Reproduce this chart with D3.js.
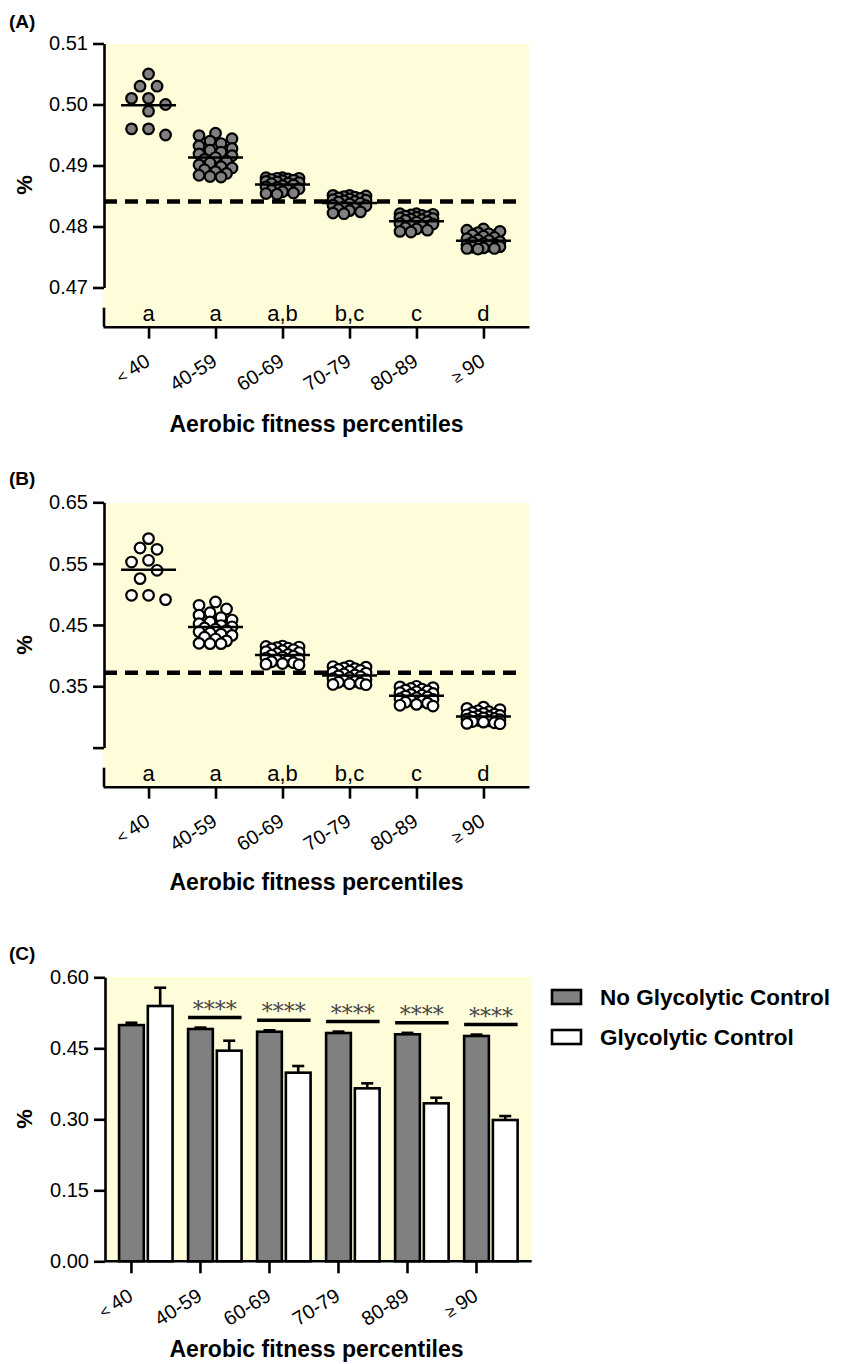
<!DOCTYPE html>
<html>
<head>
<meta charset="utf-8">
<script src="https://cdn.jsdelivr.net/npm/d3@7"></script>
<style>
  body { margin: 0; background: #fff; }
  svg { display: block; font-family: "Liberation Sans", Arial, sans-serif; }
</style>
</head>
<body>
<svg id="fig" width="841" height="1364"></svg>
<script>
// ---------- data ----------
const categories = ["< 40", "40-59", "60-69", "70-79", "80-89", "≥ 90"];
const groupLetters = ["a", "a", "a,b", "b,c", "c", "d"];
const xTitle = "Aerobic fitness percentiles";
const yTitle = "%";
const seriesNames = ["No Glycolytic Control", "Glycolytic Control"];

// (A) no glycolytic control: individual values per fitness group
const noGly_lt40  = [0.505, 0.503, 0.503, 0.501, 0.501, 0.500, 0.4989, 0.496, 0.496, 0.495];
const noGly_40_59 = [0.4953, 0.4949, 0.4944, 0.4940, 0.4936, 0.4932, 0.4928, 0.4925, 0.4922, 0.4919, 0.4916, 0.4913,
                     0.4910, 0.4907, 0.4904, 0.4901, 0.4898, 0.4896, 0.4893, 0.4890, 0.4887, 0.4884, 0.4882, 0.4881];
const noGly_60_69 = [0.4880, 0.4880, 0.4879, 0.4879, 0.4878, 0.4877, 0.4876, 0.4875, 0.4874, 0.4873, 0.4872, 0.4871,
                     0.4870, 0.4868, 0.4867, 0.4865, 0.4864, 0.4862, 0.4860, 0.4859, 0.4857, 0.4855, 0.4854, 0.4853];
const noGly_70_79 = [0.4851, 0.4851, 0.4850, 0.4849, 0.4848, 0.4847, 0.4846, 0.4845, 0.4844, 0.4843, 0.4842, 0.4841,
                     0.4840, 0.4838, 0.4837, 0.4835, 0.4834, 0.4832, 0.4830, 0.4828, 0.4826, 0.4824, 0.4822, 0.4821];
const noGly_80_89 = [0.4821, 0.4821, 0.4820, 0.4819, 0.4818, 0.4817, 0.4816, 0.4815, 0.4814, 0.4813, 0.4812, 0.4811,
                     0.4810, 0.4808, 0.4807, 0.4805, 0.4804, 0.4802, 0.4800, 0.4798, 0.4796, 0.4794, 0.4792, 0.4791];
const noGly_ge90  = [0.4796, 0.4794, 0.4792, 0.4790, 0.4788, 0.4786, 0.4784, 0.4782, 0.4780, 0.4778, 0.4777, 0.4775,
                     0.4774, 0.4772, 0.4771, 0.4770, 0.4769, 0.4768, 0.4767, 0.4766, 0.4765, 0.4764, 0.4764, 0.4763];
const noGlyGroups = [noGly_lt40, noGly_40_59, noGly_60_69, noGly_70_79, noGly_80_89, noGly_ge90];
const noGlyReference = 0.4841;

// (B) glycolytic control: individual values per fitness group
const gly_lt40  = [0.5908, 0.5755, 0.5733, 0.5554, 0.5526, 0.5391, 0.5255, 0.4983, 0.4983, 0.4913];
const gly_40_59 = [0.4874, 0.4820, 0.4760, 0.4700, 0.4660, 0.4620, 0.4580, 0.4550, 0.4520, 0.4490, 0.4470, 0.4450,
                   0.4430, 0.4410, 0.4390, 0.4370, 0.4350, 0.4330, 0.4300, 0.4270, 0.4240, 0.4200, 0.4195, 0.4195];
const gly_60_69 = [0.4156, 0.4150, 0.4140, 0.4130, 0.4120, 0.4110, 0.4095, 0.4080, 0.4065, 0.4050, 0.4035, 0.4020,
                   0.4005, 0.3990, 0.3975, 0.3960, 0.3945, 0.3930, 0.3915, 0.3900, 0.3885, 0.3870, 0.3860, 0.3852];
const gly_70_79 = [0.3830, 0.3822, 0.3812, 0.3800, 0.3788, 0.3775, 0.3760, 0.3745, 0.3730, 0.3715, 0.3700, 0.3685,
                   0.3670, 0.3655, 0.3640, 0.3625, 0.3610, 0.3595, 0.3580, 0.3565, 0.3550, 0.3540, 0.3530, 0.3526];
const gly_80_89 = [0.3500, 0.3490, 0.3478, 0.3465, 0.3452, 0.3438, 0.3424, 0.3410, 0.3396, 0.3382, 0.3368, 0.3354,
                   0.3340, 0.3326, 0.3312, 0.3298, 0.3284, 0.3270, 0.3255, 0.3240, 0.3225, 0.3205, 0.3190, 0.3177];
const gly_ge90  = [0.3160, 0.3140, 0.3120, 0.3100, 0.3085, 0.3070, 0.3058, 0.3046, 0.3035, 0.3025, 0.3015, 0.3005,
                   0.2995, 0.2985, 0.2975, 0.2965, 0.2955, 0.2945, 0.2935, 0.2925, 0.2915, 0.2905, 0.2895, 0.2890];
const glyGroups = [gly_lt40, gly_40_59, gly_60_69, gly_70_79, gly_80_89, gly_ge90];
const glyReference = 0.3722;

// (C) group means with SD
const meanNoGly = [0.499, 0.4908, 0.485, 0.4823, 0.4796, 0.476];
const sdNoGly   = [0.005, 0.003, 0.003, 0.003, 0.003, 0.003];
const meanGly   = [0.5394, 0.445, 0.3985, 0.3654, 0.3338, 0.2985];
const sdGly     = [0.0386, 0.021, 0.0141, 0.0106, 0.0118, 0.0084];
const significance = ["", "****", "****", "****", "****", "****"];

// axis ticks
const ticksA = [0.47, 0.48, 0.49, 0.50, 0.51];
const tickTextA = ["0.47", "0.48", "0.49", "0.50", "0.51"];
const ticksB = [0.25, 0.35, 0.45, 0.55, 0.65];
const tickTextB = ["", "0.35", "0.45", "0.55", "0.65"];
const ticksC = [0, 0.15, 0.30, 0.45, 0.60];
const tickTextC = ["0.00", "0.15", "0.30", "0.45", "0.60"];

// ---------- drawing ----------
const svg = d3.select("#fig");
const plotBg = "#FEFCD9";
const greyFill = "#808080";
const axisW = 2.6;

function styleAxis(g) {
  g.select(".domain").attr("stroke", "#000").attr("stroke-width", axisW);
  g.selectAll(".tick line").attr("stroke", "#000").attr("stroke-width", axisW);
  g.selectAll(".tick text").attr("fill", "#000").attr("font-size", 20);
}

// rotated category labels under an axis; comparison symbols are set smaller
function categoryLabels(g, xOf, axisY) {
  const t = g.selectAll("text.cat").data(categories).join("text")
    .attr("class", "cat")
    .attr("text-anchor", "end")
    .attr("font-size", 20)
    .attr("transform", d => `translate(${xOf(d) + 3},${axisY + 38}) rotate(-32)`);
  t.each(function (d) {
    const parts = d.split(" ");
    const el = d3.select(this);
    if (parts.length > 1) {
      el.append("tspan").attr("font-size", 16).text(parts[0] + " ");
      el.append("tspan").text(parts[1]);
    } else {
      el.text(d);
    }
  });
}

function panelLabel(text, y) {
  svg.append("text").attr("x", 9).attr("y", y)
    .attr("font-weight", "bold").attr("font-size", 19).text(text);
}

function yAxisTitle(cy) {
  svg.append("text")
    .attr("transform", `translate(32,${cy}) rotate(-90)`)
    .attr("text-anchor", "middle").attr("font-weight", "bold").attr("font-size", 22)
    .text(yTitle);
}

function xAxisTitle(baseY) {
  svg.append("text").attr("x", 316.5).attr("y", baseY)
    .attr("text-anchor", "middle").attr("font-weight", "bold").attr("font-size", 23)
    .text(xTitle);
}

// compact dot layout: close values are spread sideways around the group centre
function swarm(values, cx, y) {
  const dense = values.length > 12;
  const step = dense ? 5.5 : 8.5;
  const order = dense ? [0, -1, 1, -2, 2, -3, 3] : [0, -1, 1, -2, 2];
  const minD = 12.5;
  const placed = [];
  values.slice().sort((a, b) => b - a).forEach(v => {
    const py = y(v);
    let best = cx, bestD = -1;
    for (const k of order) {
      const px = cx + k * step;
      let md = Infinity;
      placed.forEach(p => { md = Math.min(md, Math.hypot(p.x - px, p.y - py)); });
      if (md >= minD) { best = px; break; }
      if (md > bestD + 0.01) { bestD = md; best = px; }
    }
    placed.push({ x: best, y: py, v });
  });
  return placed;
}

function scatterPanel(o) {
  const g = svg.append("g");
  const left = 103, right = 529, axisX = 104;
  const x = d3.scalePoint().domain(categories).range([left, right]).padding(0.68);
  const y = d3.scaleLinear().domain(o.domain).range([o.yLow, o.yHigh]);

  g.append("rect").attr("x", left).attr("y", o.bgTop)
    .attr("width", right - left).attr("height", o.axisY - o.bgTop).attr("fill", plotBg);

  // reference line
  g.append("line")
    .attr("x1", left + 1).attr("x2", right - 10)
    .attr("y1", y(o.reference)).attr("y2", y(o.reference))
    .attr("stroke", "#000").attr("stroke-width", 4.5).attr("stroke-dasharray", "13 8");

  // dots and group means
  o.groups.forEach((vals, i) => {
    const cx = x(categories[i]);
    const pts = swarm(vals, cx, y);
    g.append("g").selectAll("circle").data(pts).join("circle")
      .attr("cx", d => d.x).attr("cy", d => d.y).attr("r", 5.3)
      .attr("fill", o.fill).attr("stroke", "#000").attr("stroke-width", 2.2);
    const m = d3.mean(vals);
    g.append("line").attr("x1", cx - 27.5).attr("x2", cx + 27.5)
      .attr("y1", y(m)).attr("y2", y(m)).attr("stroke", "#000").attr("stroke-width", 2.5);
  });

  // group letters
  g.selectAll("text.letter").data(groupLetters).join("text")
    .attr("class", "letter")
    .attr("x", (d, i) => x(categories[i])).attr("y", o.axisY - 5.5)
    .attr("text-anchor", "middle").attr("font-size", 22).text(d => d);

  // y axis with a short segment near the category axis
  const ya = g.append("g").attr("transform", `translate(${axisX},0)`)
    .call(d3.axisLeft(y).tickValues(o.ticks).tickFormat((d, i) => o.tickText[i])
      .tickSize(11).tickPadding(5).tickSizeOuter(0));
  styleAxis(ya);
  g.append("line").attr("x1", axisX).attr("x2", axisX)
    .attr("y1", o.axisY - 19).attr("y2", o.axisY)
    .attr("stroke", "#000").attr("stroke-width", axisW);

  const xa = g.append("g").attr("transform", `translate(0,${o.axisY})`)
    .call(d3.axisBottom(x).tickSize(12).tickSizeOuter(0).tickFormat(""));
  styleAxis(xa);
  categoryLabels(g, d => x(d), o.axisY);
}

// (A)
panelLabel("(A)", 28);
scatterPanel({
  domain: [0.47, 0.51], yLow: 287.5, yHigh: 43.5, bgTop: 44, axisY: 326.7,
  ticks: ticksA, tickText: tickTextA, groups: noGlyGroups, reference: noGlyReference, fill: greyFill
});
yAxisTitle(185);
xAxisTitle(431.7);

// (B)
panelLabel("(B)", 485);
scatterPanel({
  domain: [0.25, 0.65], yLow: 747.6, yHigh: 502.3, bgTop: 503, axisY: 786.7,
  ticks: ticksB, tickText: tickTextB, groups: glyGroups, reference: glyReference, fill: "#fff"
});
yAxisTitle(645);
xAxisTitle(890);

// (C) grouped bars
panelLabel("(C)", 960);
(function barPanel() {
  const g = svg.append("g");
  const left = 105, right = 531.7, top = 977.3, axisY = 1261.3;
  const x0 = d3.scaleBand().domain(categories).range([left, right]).paddingInner(0.225).paddingOuter(0.204);
  const x1 = d3.scaleBand().domain([0, 1]).range([0, x0.bandwidth()]).paddingInner(0.14);
  const y = d3.scaleLinear().domain([0, 0.60]).range([axisY, top]);

  g.append("rect").attr("x", left).attr("y", 977)
    .attr("width", right - left).attr("height", axisY - 977).attr("fill", plotBg);

  const series = [
    { means: meanNoGly, sds: sdNoGly, fill: greyFill },
    { means: meanGly, sds: sdGly, fill: "#fff" }
  ];
  series.forEach((s, si) => {
    const rows = categories.map((c, i) => ({ c, m: s.means[i], sd: s.sds[i] }));
    const cxOf = d => x0(d.c) + x1(si) + x1.bandwidth() / 2;
    const sg = g.append("g");
    // upper error bars
    sg.selectAll("line.err").data(rows).join("line").attr("class", "err")
      .attr("x1", cxOf).attr("x2", cxOf)
      .attr("y1", d => y(d.m)).attr("y2", d => y(d.m + d.sd))
      .attr("stroke", "#000").attr("stroke-width", 2.6);
    sg.selectAll("line.cap").data(rows).join("line").attr("class", "cap")
      .attr("x1", d => cxOf(d) - 6).attr("x2", d => cxOf(d) + 6)
      .attr("y1", d => y(d.m + d.sd)).attr("y2", d => y(d.m + d.sd))
      .attr("stroke", "#000").attr("stroke-width", 2.6);
    sg.selectAll("rect").data(rows).join("rect")
      .attr("x", d => x0(d.c) + x1(si)).attr("width", x1.bandwidth())
      .attr("y", d => y(d.m)).attr("height", d => axisY - y(d.m))
      .attr("fill", s.fill).attr("stroke", "#000").attr("stroke-width", 2.6);
  });

  // significance brackets
  categories.forEach((c, i) => {
    if (!significance[i]) return;
    const ly = y(meanNoGly[i] + sdNoGly[i]) - 10;
    const xa = x0(c), xb = x0(c) + x0.bandwidth();
    g.append("line").attr("x1", xa).attr("x2", xb).attr("y1", ly).attr("y2", ly)
      .attr("stroke", "#000").attr("stroke-width", 3.5);
    g.append("text").attr("x", (xa + xb) / 2).attr("y", ly - 1)
      .attr("text-anchor", "middle").attr("font-family", "'DejaVu Serif', 'Liberation Serif', serif")
      .attr("font-size", 22).attr("fill", "#444").text(significance[i]);
  });

  const ya = g.append("g").attr("transform", `translate(${left},0)`)
    .call(d3.axisLeft(y).tickValues(ticksC).tickFormat((d, i) => tickTextC[i])
      .tickSize(11).tickPadding(5).tickSizeOuter(0));
  styleAxis(ya);

  const tickX = c => x0(c) + x1(0) + x1.bandwidth() / 2;
  const xa = g.append("g").attr("transform", `translate(0,${axisY})`);
  xa.append("line").attr("x1", left).attr("x2", right).attr("y1", 0).attr("y2", 0)
    .attr("stroke", "#000").attr("stroke-width", axisW);
  xa.selectAll("line.tk").data(categories).join("line").attr("class", "tk")
    .attr("x1", tickX).attr("x2", tickX).attr("y1", 0).attr("y2", 12)
    .attr("stroke", "#000").attr("stroke-width", axisW);
  categoryLabels(g, tickX, axisY);

  // legend
  const lg = svg.append("g");
  const legendFills = [greyFill, "#fff"];
  seriesNames.forEach((name, i) => {
    lg.append("rect").attr("x", 552).attr("y", 990 + i * 40).attr("width", 29).attr("height", 14)
      .attr("fill", legendFills[i]).attr("stroke", "#000").attr("stroke-width", 2.6);
    lg.append("text").attr("x", 600).attr("y", 1004.5 + i * 40)
      .attr("font-weight", "bold").attr("font-size", 22.5).text(name);
  });
})();
yAxisTitle(1119);
xAxisTitle(1357);
</script>
</body>
</html>
